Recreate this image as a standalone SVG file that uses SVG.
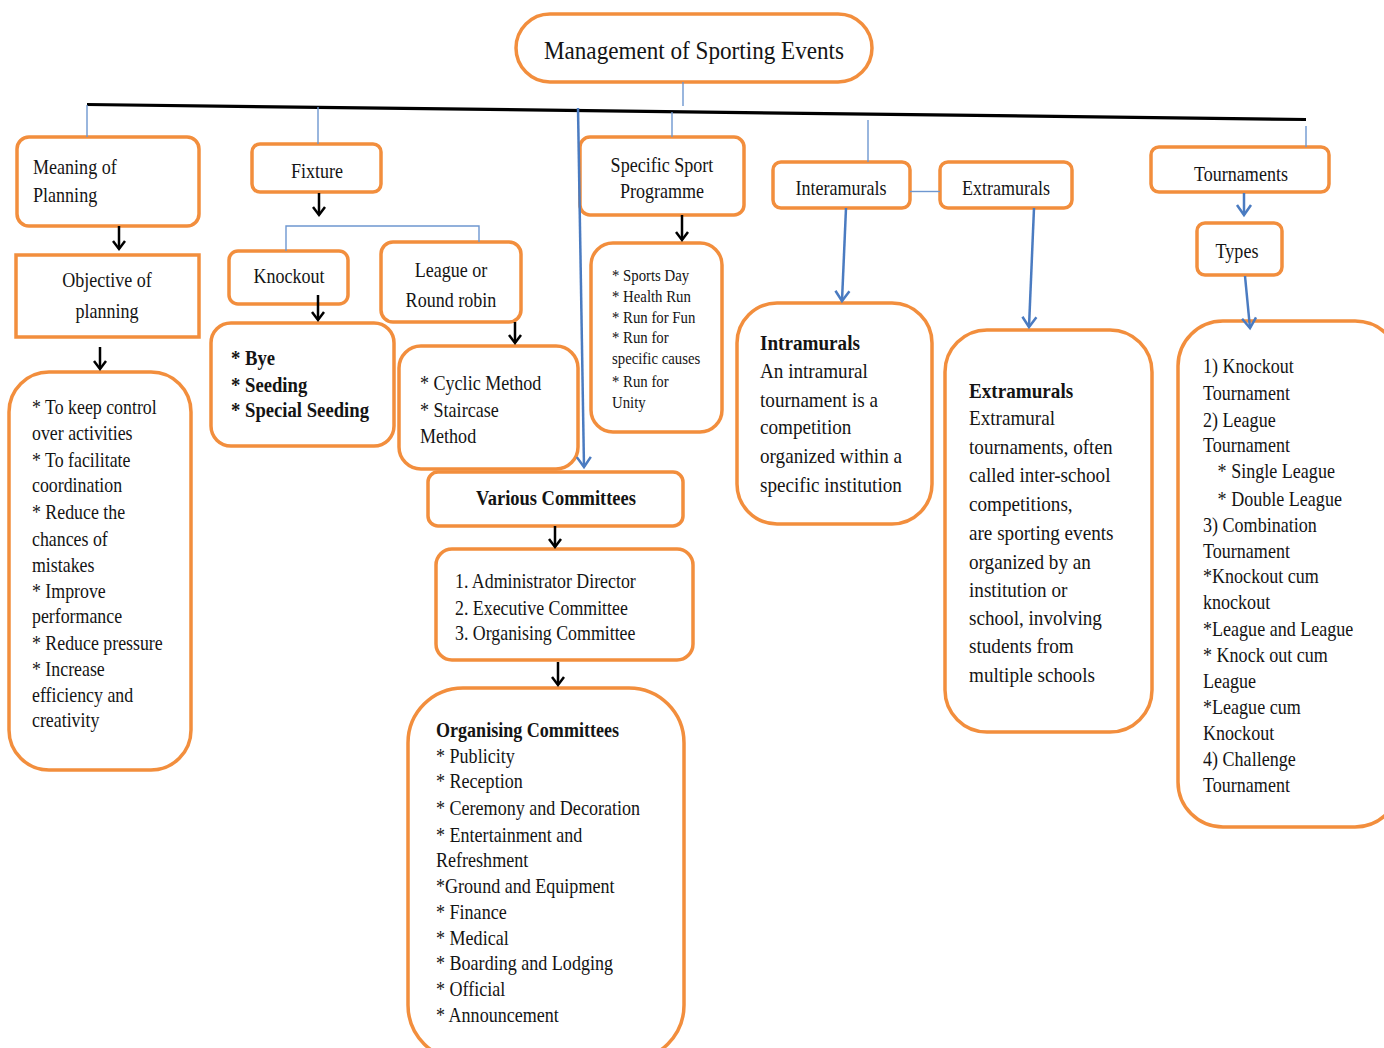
<svg xmlns="http://www.w3.org/2000/svg" width="1384" height="1048" viewBox="0 0 1384 1048">
  <defs>
    <style>
      .box { fill:#FFFFFF; stroke:#F28E3D; stroke-width:3.5; }
      .t { font-family:"Liberation Serif","Times New Roman",serif; font-size:21px; fill:#141414; }
      .s22 { font-size:22px; }
      .s17 { font-size:17px; }
      .b { font-weight:bold; }
      .c { text-anchor:middle; }
      .thin { stroke:#6E97D0; stroke-width:1.4; fill:none; }
      .bar { stroke:#000; stroke-width:3.2; fill:none; }
      .blue { stroke:#4A7BC1; stroke-width:2.5; fill:none; marker-end:url(#arrBlue); }
      .blk { stroke:#000; stroke-width:2.5; fill:none; marker-end:url(#arrBlack); }
    </style>
    <marker id="arrBlack" markerUnits="userSpaceOnUse" markerWidth="20" markerHeight="20" refX="0" refY="0" orient="auto" overflow="visible">
      <path d="M-8,-6 L0,0 L-8,6" fill="none" stroke="#000" stroke-width="2.5"/>
    </marker>
    <marker id="arrBlue" markerUnits="userSpaceOnUse" markerWidth="20" markerHeight="20" refX="0" refY="0" orient="auto" overflow="visible">
      <path d="M-10,-7 L0,0 L-10,7" fill="none" stroke="#4A7BC1" stroke-width="2.5"/>
    </marker>
  </defs>

  <rect width="1384" height="1048" fill="#FFFFFF"/>

  <!-- root -->
  <g id="root">
    <rect class="box" x="516" y="14" width="356" height="68" rx="34"/>
    <g transform="translate(694 0) scale(0.89 1)">
      <text class="t c" x="0" y="59" style="font-size:26px">Management of Sporting Events</text>
    </g>
  </g>

  <!-- planning branch -->
  <g id="meaning">
    <rect class="box" x="17" y="137" width="182" height="89" rx="12"/>
    <g transform="translate(33 0) scale(0.86 1)">
      <text class="t"><tspan x="0" y="174">Meaning of</tspan><tspan x="0" y="202">Planning</tspan></text>
    </g>
  </g>
  <g id="objective">
    <rect class="box" x="16" y="255" width="183" height="82"/>
    <g transform="translate(107 0) scale(0.86 1)">
      <text class="t c"><tspan x="0" y="287">Objective of</tspan><tspan x="0" y="318">planning</tspan></text>
    </g>
  </g>
  <g id="objective-list">
    <rect class="box" x="9" y="372" width="182" height="398" rx="40"/>
    <g transform="translate(32 0) scale(0.85 1)">
      <text class="t">
        <tspan x="0" y="414">* To keep control</tspan>
        <tspan x="0" y="440">over activities</tspan>
        <tspan x="0" y="467">* To facilitate</tspan>
        <tspan x="0" y="492">coordination</tspan>
        <tspan x="0" y="519">* Reduce the</tspan>
        <tspan x="0" y="546">chances of</tspan>
        <tspan x="0" y="572">mistakes</tspan>
        <tspan x="0" y="598">* Improve</tspan>
        <tspan x="0" y="623">performance</tspan>
        <tspan x="0" y="650">* Reduce pressure</tspan>
        <tspan x="0" y="676">* Increase</tspan>
        <tspan x="0" y="702">efficiency and</tspan>
        <tspan x="0" y="727">creativity</tspan>
      </text>
    </g>
  </g>

  <!-- fixture branch -->
  <g id="fixture">
    <rect class="box" x="252" y="144" width="129" height="48" rx="8"/>
    <g transform="translate(317 0) scale(0.86 1)">
      <text class="t c" x="0" y="178">Fixture</text>
    </g>
  </g>
  <g id="knockout">
    <rect class="box" x="229" y="251" width="119" height="53" rx="9"/>
    <g transform="translate(289 0) scale(0.86 1)">
      <text class="t c" x="0" y="283">Knockout</text>
    </g>
  </g>
  <g id="knockout-list">
    <rect class="box" x="211" y="323" width="183" height="123" rx="20"/>
    <g transform="translate(231 0) scale(0.89 1)">
      <text class="t b">
        <tspan x="0" y="365">* Bye</tspan>
        <tspan x="0" y="392">* Seeding</tspan>
        <tspan x="0" y="417">* Special Seeding</tspan>
      </text>
    </g>
  </g>
  <g id="league">
    <rect class="box" x="381" y="242" width="140" height="80" rx="12"/>
    <g transform="translate(451 0) scale(0.86 1)">
      <text class="t c"><tspan x="0" y="277">League or</tspan><tspan x="0" y="307">Round robin</tspan></text>
    </g>
  </g>
  <g id="league-list">
    <rect class="box" x="399" y="346" width="179" height="123" rx="22"/>
    <g transform="translate(420 0) scale(0.86 1)">
      <text class="t">
        <tspan x="0" y="390">* Cyclic Method</tspan>
        <tspan x="0" y="417">* Staircase</tspan>
        <tspan x="0" y="443">Method</tspan>
      </text>
    </g>
  </g>

  <!-- committees branch -->
  <g id="various">
    <rect class="box" x="428" y="472" width="255" height="54" rx="10"/>
    <g transform="translate(556 0) scale(0.88 1)">
      <text class="t b c" x="0" y="505">Various Committees</text>
    </g>
  </g>
  <g id="committee-list">
    <rect class="box" x="436" y="549" width="257" height="111" rx="16"/>
    <g transform="translate(455 0) scale(0.85 1)">
      <text class="t">
        <tspan x="0" y="588">1. Administrator Director</tspan>
        <tspan x="0" y="615">2. Executive Committee</tspan>
        <tspan x="0" y="640">3. Organising Committee</tspan>
      </text>
    </g>
  </g>
  <g id="organising">
    <rect class="box" x="408" y="688" width="276" height="372" rx="55"/>
    <g transform="translate(436 0) scale(0.86 1)">
      <text class="t">
        <tspan class="b" x="0" y="737">Organising Committees</tspan>
        <tspan x="0" y="763">* Publicity</tspan>
        <tspan x="0" y="788">* Reception</tspan>
        <tspan x="0" y="815">* Ceremony and Decoration</tspan>
        <tspan x="0" y="842">* Entertainment and</tspan>
        <tspan x="0" y="867">Refreshment</tspan>
        <tspan x="0" y="893">*Ground and Equipment</tspan>
        <tspan x="0" y="919">* Finance</tspan>
        <tspan x="0" y="945">* Medical</tspan>
        <tspan x="0" y="970">* Boarding and Lodging</tspan>
        <tspan x="0" y="996">* Official</tspan>
        <tspan x="0" y="1022">* Announcement</tspan>
      </text>
    </g>
  </g>

  <!-- specific sport programme -->
  <g id="specific">
    <rect class="box" x="580" y="137" width="164" height="78" rx="10"/>
    <g transform="translate(662 0) scale(0.86 1)">
      <text class="t c"><tspan x="0" y="172">Specific Sport</tspan><tspan x="0" y="198">Programme</tspan></text>
    </g>
  </g>
  <g id="specific-list">
    <rect class="box" x="591" y="243" width="131" height="189" rx="22"/>
    <g transform="translate(612 0) scale(0.87 1)">
      <text class="t s17">
        <tspan x="0" y="281">* Sports Day</tspan>
        <tspan x="0" y="302">* Health Run</tspan>
        <tspan x="0" y="323">* Run for Fun</tspan>
        <tspan x="0" y="343">* Run for</tspan>
        <tspan x="0" y="364">specific causes</tspan>
        <tspan x="0" y="387">* Run for</tspan>
        <tspan x="0" y="408">Unity</tspan>
      </text>
    </g>
  </g>

  <!-- intramurals / extramurals -->
  <g id="interamurals">
    <rect class="box" x="773" y="162" width="137" height="46" rx="8"/>
    <g transform="translate(841 0) scale(0.86 1)">
      <text class="t c" x="0" y="195">Interamurals</text>
    </g>
  </g>
  <g id="extramurals">
    <rect class="box" x="940" y="162" width="132" height="46" rx="8"/>
    <g transform="translate(1006 0) scale(0.86 1)">
      <text class="t c" x="0" y="195">Extramurals</text>
    </g>
  </g>
  <g id="intramurals-desc">
    <rect class="box" x="737" y="303" width="195" height="221" rx="40"/>
    <g transform="translate(760 0) scale(0.87 1)">
      <text class="t s22">
        <tspan class="b" x="0" y="350">Intramurals</tspan>
        <tspan x="0" y="378">An intramural</tspan>
        <tspan x="0" y="407">tournament  is a</tspan>
        <tspan x="0" y="434">competition</tspan>
        <tspan x="0" y="463">organized  within a</tspan>
        <tspan x="0" y="492">specific  institution</tspan>
      </text>
    </g>
  </g>
  <g id="extramurals-desc">
    <rect class="box" x="945" y="330" width="207" height="402" rx="42"/>
    <g transform="translate(969 0) scale(0.87 1)">
      <text class="t s22">
        <tspan class="b" x="0" y="398">Extramurals</tspan>
        <tspan x="0" y="425">Extramural</tspan>
        <tspan x="0" y="454">tournaments,  often</tspan>
        <tspan x="0" y="482">called inter-school</tspan>
        <tspan x="0" y="511">competitions,</tspan>
        <tspan x="0" y="540">are sporting events</tspan>
        <tspan x="0" y="569">organized by an</tspan>
        <tspan x="0" y="597">institution or</tspan>
        <tspan x="0" y="625">school, involving</tspan>
        <tspan x="0" y="653">students from</tspan>
        <tspan x="0" y="682">multiple schools</tspan>
      </text>
    </g>
  </g>

  <!-- tournaments branch -->
  <g id="tournaments">
    <rect class="box" x="1151" y="147" width="178" height="45" rx="8"/>
    <g transform="translate(1241 0) scale(0.86 1)">
      <text class="t c" x="0" y="181">Tournaments</text>
    </g>
  </g>
  <g id="types">
    <rect class="box" x="1197" y="223" width="85" height="52" rx="8"/>
    <g transform="translate(1237 0) scale(0.86 1)">
      <text class="t c" x="0" y="258">Types</text>
    </g>
  </g>
  <g id="types-list">
    <rect class="box" x="1178" y="321" width="222" height="506" rx="45"/>
    <g transform="translate(1203 0) scale(0.86 1)">
      <text class="t">
        <tspan x="0" y="373">1) Knockout</tspan>
        <tspan x="0" y="400">Tournament</tspan>
        <tspan x="0" y="427">2) League</tspan>
        <tspan x="0" y="452">Tournament</tspan>
        <tspan x="17" y="478">* Single League</tspan>
        <tspan x="17" y="506">* Double League</tspan>
        <tspan x="0" y="532">3) Combination</tspan>
        <tspan x="0" y="558">Tournament</tspan>
        <tspan x="0" y="583">*Knockout cum</tspan>
        <tspan x="0" y="609">knockout</tspan>
        <tspan x="0" y="636">*League and League</tspan>
        <tspan x="0" y="662">* Knock out cum</tspan>
        <tspan x="0" y="688">League</tspan>
        <tspan x="0" y="714">*League cum</tspan>
        <tspan x="0" y="740">Knockout</tspan>
        <tspan x="0" y="766">4) Challenge</tspan>
        <tspan x="0" y="792">Tournament</tspan>
      </text>
    </g>
  </g>

  <!-- connectors -->
  <g id="connectors">
    <line class="thin" x1="683" y1="82" x2="683" y2="106"/>
    <line class="bar" x1="87" y1="104.5" x2="1306" y2="119.5"/>
    <line class="thin" x1="87" y1="105" x2="87" y2="137"/>
    <line class="thin" x1="318" y1="107" x2="318" y2="144"/>
    <line class="thin" x1="672" y1="112" x2="672" y2="137"/>
    <line class="thin" x1="868" y1="120" x2="868" y2="162"/>
    <line class="thin" x1="1306" y1="126" x2="1306" y2="147"/>
    <path class="thin" d="M286,251 V226 H479 V242"/>
    <line class="thin" x1="910" y1="191.5" x2="940" y2="191.5"/>

    <line class="blue" x1="578" y1="108" x2="584" y2="467"/>
    <line class="blue" x1="846" y1="208" x2="842" y2="301"/>
    <line class="blue" x1="1034" y1="208" x2="1029" y2="327"/>
    <line class="blue" x1="1244" y1="193" x2="1244" y2="215"/>
    <line class="blue" x1="1245" y1="276" x2="1250" y2="328"/>

    <line class="blk" x1="119" y1="226" x2="119" y2="249"/>
    <line class="blk" x1="100" y1="347" x2="100" y2="369"/>
    <line class="blk" x1="319" y1="193" x2="319" y2="215"/>
    <line class="blk" x1="318" y1="295" x2="318" y2="320"/>
    <line class="blk" x1="515" y1="322" x2="515" y2="343"/>
    <line class="blk" x1="682" y1="215" x2="682" y2="240"/>
    <line class="blk" x1="555" y1="526" x2="555" y2="547"/>
    <line class="blk" x1="558" y1="662" x2="558" y2="685"/>
  </g>
</svg>
